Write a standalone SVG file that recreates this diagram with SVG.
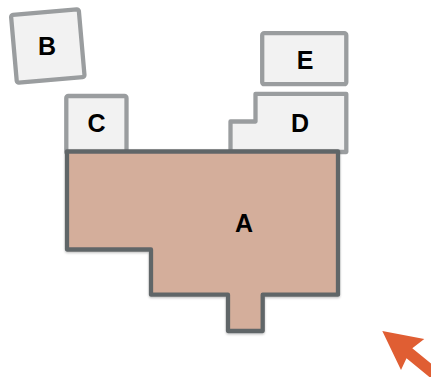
<svg xmlns="http://www.w3.org/2000/svg" width="431" height="377" viewBox="0 0 431 377">
<defs>
<style>
.box{fill:#f2f2f2;stroke:#9a9d9f;stroke-width:4.3;stroke-linejoin:round}
.main{fill:#d4ae9b;stroke:#616668;stroke-width:4.3;stroke-linejoin:round}
.lbl{font-family:"Liberation Sans",Arial,sans-serif;font-weight:bold;font-size:25px;fill:#000;text-anchor:middle}
</style>
<filter id="sh" x="-10%" y="-10%" width="120%" height="120%">
<feDropShadow dx="0" dy="1.2" stdDeviation="0.8" flood-color="#000" flood-opacity="0.25"/>
</filter>
</defs>
<g id="B">
<rect class="box" x="13.8" y="12" width="68" height="68" rx="2" transform="rotate(-5 47.8 46)"/>
<text class="lbl" x="47" y="55">B</text>
</g>
<g id="C">
<rect class="box" x="66.3" y="96" width="60.2" height="58" rx="2"/>
<text class="lbl" x="96.5" y="132">C</text>
</g>
<g id="E">
<rect class="box" x="262.2" y="33.2" width="84.1" height="51" rx="2"/>
<text class="lbl" x="305" y="69">E</text>
</g>
<g id="D">
<polygon class="box" points="255.5,93.8 346.3,93.8 346.3,152 230.5,152 230.5,121.5 255.5,121.5"/>
<text class="lbl" x="300" y="132">D</text>
</g>
<g id="A">
<polygon class="main" filter="url(#sh)" points="67,151.5 338,151.5 338,294.7 262.7,294.7 262.7,331 228,331 228,294.7 151,294.7 151,249.5 67,249.5"/>
<text class="lbl" x="244" y="232">A</text>
</g>
<g id="arrow">
<polygon fill="#e05e33" points="382.3,331 424.3,339 412.3,348.3 442,372.4 436,382.4 406.5,358.3 401,370"/>
</g>
</svg>
